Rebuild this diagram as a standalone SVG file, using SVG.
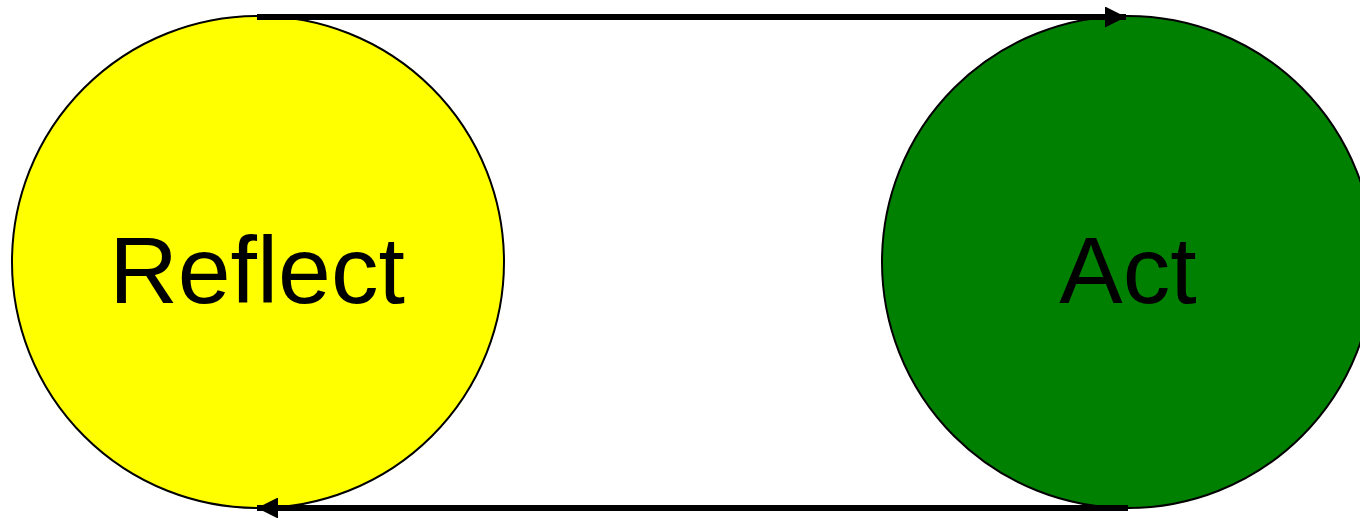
<svg xmlns="http://www.w3.org/2000/svg" width="1360" height="518" viewBox="0 0 1360 518">
<style>
.node{stroke:#000;stroke-width:2}
.lbl{font-family:"Liberation Sans",Arial,sans-serif;font-size:95px;fill:#000;text-anchor:middle}
.conn{stroke:#000;stroke-width:6;fill:none}
</style>
<defs>
<marker id="ah" viewBox="0 0 10 10" refX="10" refY="5" markerWidth="3.5" markerHeight="3.5" orient="auto" markerUnits="strokeWidth">
<path d="M0,0 L10,5 L0,10 Z" fill="#000"/>
</marker>
</defs>
<rect width="1360" height="518" fill="#fff"/>
<g id="reflect">
<circle class="node" cx="258" cy="262" r="246" fill="#ffff00"/>
<text class="lbl" x="257" y="303">Reflect</text>
</g>
<g id="act">
<circle class="node" cx="1128" cy="262" r="246" fill="#008000"/>
<text class="lbl" x="1128" y="303">Act</text>
</g>
<g id="connectors">
<path class="conn" d="M257,17 L1126,17" marker-end="url(#ah)"/>
<path class="conn" d="M1128,508 L257,508" marker-end="url(#ah)"/>
</g>
</svg>
